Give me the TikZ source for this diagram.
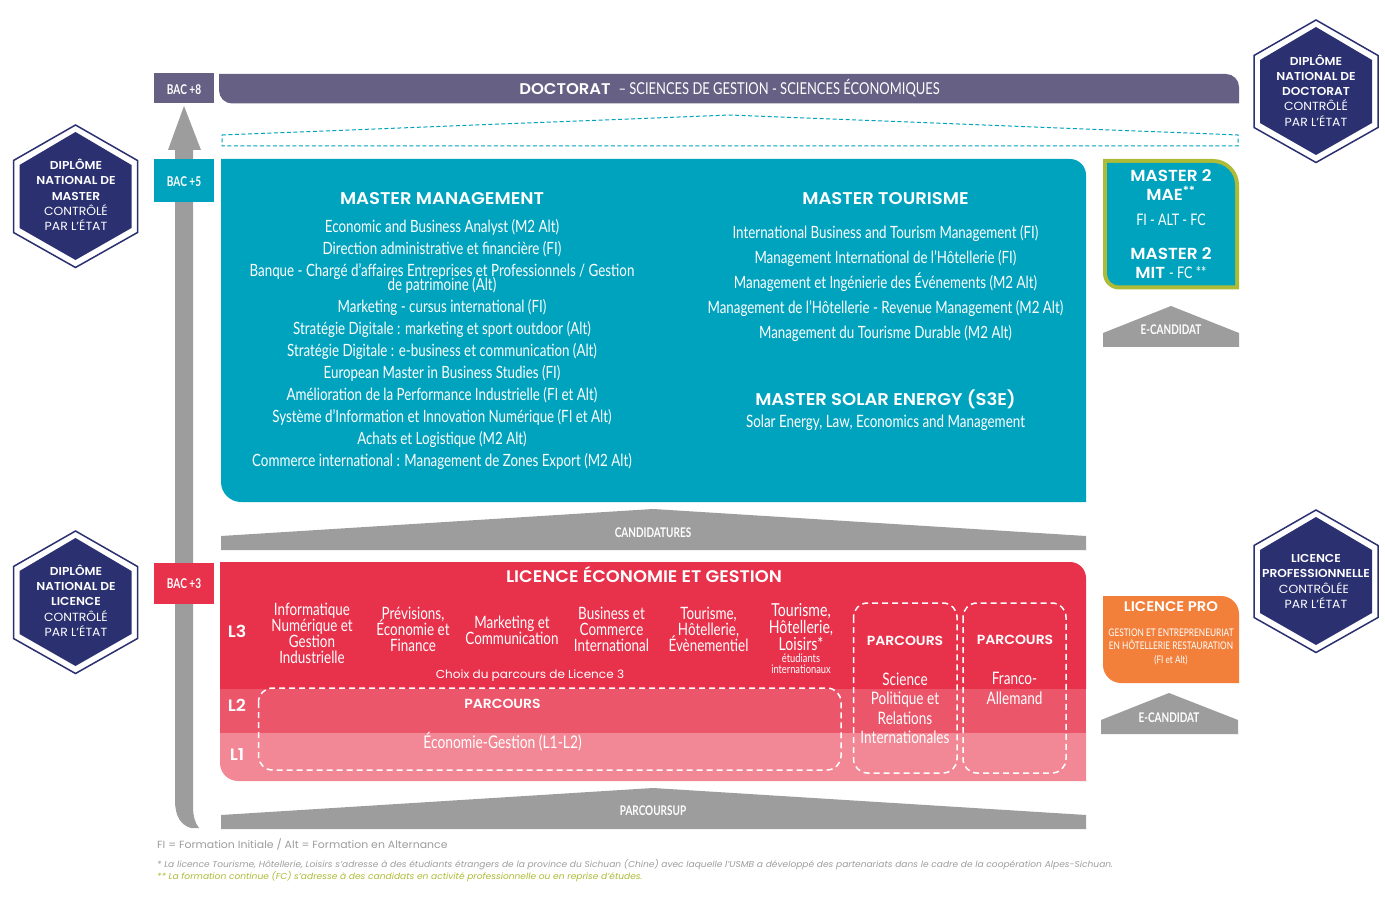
\documentclass[tikz,border=0pt]{standalone}
\usepackage{fontspec}
\newfontfamily\dinf[FakeStretch=0.79]{Lato}
\newfontfamily\dinb[FakeStretch=0.75]{Lato Bold}
\newfontfamily\gotf[FakeStretch=1.05]{Poppins}
\newfontfamily\gotb[FakeStretch=1.06]{Poppins SemiBold}
\definecolor{purp}{HTML}{666085}
\definecolor{teal}{HTML}{00A3BE}
\definecolor{redd}{HTML}{E8324C}
\definecolor{redb}{HTML}{EB566B}
\definecolor{redc}{HTML}{F28895}
\definecolor{grayy}{HTML}{9D9D9D}
\definecolor{navy}{HTML}{2B3071}
\definecolor{olivy}{HTML}{AEBB37}
\definecolor{orang}{HTML}{F2803B}
\newcommand\tbpath[6]{(#1,#2) -- ({#3-#5},#2) .. controls ({#3-0.45*#5},#2) and (#3,{#2+0.45*#5}) .. (#3,{#2+#5}) -- (#3,#4) -- ({#1+#6},#4) .. controls ({#1+0.45*#6},#4) and (#1,{#4-0.45*#6}) .. (#1,{#4-#6}) -- cycle}
\tikzset{
  din/.style={inner sep=0pt,text depth=0pt,text height=#1*0.7pt,text=white,font=\dinf\fontsize{#1}{#1}\selectfont},
  dib/.style={inner sep=0pt,text depth=0pt,text height=#1*0.7pt,text=white,font=\dinb\fontsize{#1}{#1}\selectfont},
  tit/.style={inner sep=0pt,text depth=0pt,text height=#1*0.7pt,text=white,font=\gotb\fontsize{#1}{#1}\selectfont},
  lig/.style={inner sep=0pt,text depth=0pt,text height=#1*0.7pt,text=white,font=\gotf\fontsize{#1}{#1}\selectfont},
  dashbox/.style={draw=white,line width=1.5pt,dash pattern=on 6pt off 4pt,rounded corners=14pt},
  hexa/.pic={
    \draw[navy,line width=1.5pt] (0,1) -- (62,36.5) -- (62,108.5) -- (0,143.5) -- (-62,108.5) -- (-62,36.5) -- cycle;
    \fill[navy] (0,8) -- (56,41) -- (56,104) -- (0,136) -- (-56,104) -- (-56,41) -- cycle;
  }
}
\begin{document}
\begin{tikzpicture}[x=1pt,y=-1pt]
\useasboundingbox (0,0) rectangle (1385,901);
\fill[white] (0,0) rectangle (1385,901);
% hexagons
\pic at (75.5,124) {hexa};
\pic at (75.5,530) {hexa};
\pic at (1316,19) {hexa};
\pic at (1316,509) {hexa};
\node[tit=11.5] (ha1) at (76,165) {DIPLÔME};
\node[tit=11.5] (ha2) at (76,180.5) {NATIONAL DE};
\node[tit=11.5] (ha3) at (76,196) {MASTER};
\node[lig=11.8] (ha4) at (76,211) {CONTRÔLÉ};
\node[lig=11.8] (ha5) at (76,226) {PAR L’ÉTAT};
\node[tit=11.5] (hb1) at (76,571) {DIPLÔME};
\node[tit=11.5] (hb2) at (76,586) {NATIONAL DE};
\node[tit=11.5] (hb3) at (76,601.5) {LICENCE};
\node[lig=11.8] (hb4) at (76,617) {CONTRÔLÉ};
\node[lig=11.8] (hb5) at (76,632) {PAR L’ÉTAT};
\node[tit=11.5] (hc1) at (1316,61) {DIPLÔME};
\node[tit=11.5] (hc2) at (1316,76) {NATIONAL DE};
\node[tit=11.5] (hc3) at (1316,91) {DOCTORAT};
\node[lig=11.8] (hc4) at (1316,106.5) {CONTRÔLÉ};
\node[lig=11.8] (hc5) at (1316,122) {PAR L’ÉTAT};
\node[tit=11.5] (hd1) at (1316,558.5) {LICENCE};
\node[tit=11.5] (hd2) at (1316,573.5) {PROFESSIONNELLE};
\node[lig=11.8] (hd3) at (1314,589) {CONTRÔLÉE};
\node[lig=11.8] (hd4) at (1316,604) {PAR L’ÉTAT};
% gray arrow
\fill[grayy] (184,106) -- (201,150) -- (193,150) -- (193,806) .. controls (193,816) and (195,823) .. (199,828) -- (191,828) .. controls (181,825) and (175,817) .. (175,800) -- (175,150) -- (168,150) -- cycle;
% bac boxes
\fill[purp] (154,73) rectangle (214,103);
\fill[teal] (154,159) rectangle (214,202);
\fill[redd] (154,562.5) rectangle (214,604);
\node[dib=13.5] (b8) at (184,89.5) {BAC +8};
\node[dib=13.5] (b5) at (184,181.5) {BAC +5};
\node[dib=13.5] (b3) at (184,583.5) {BAC +3};
% doctorat
\fill[purp] \tbpath{219}{74}{1239}{103.5}{13}{13};
\node[inner sep=0pt,text=white] (doc) at (729.5,88.5) {\gotb\fontsize{15.5}{15.5}\selectfont DOCTORAT\ \ \dinf\fontsize{16.4}{16.4}\selectfont – SCIENCES DE GESTION - SCIENCES ÉCONOMIQUES};
\draw[teal,line width=1pt,dash pattern=on 4pt off 2.5pt] (222,135) -- (730,115) -- (1238,135) -- (1238,146) -- (222,146) -- cycle;
% master
\fill[teal] \tbpath{221}{159}{1086}{502}{16}{20};
\node[tit=17] (mm) at (442,199) {MASTER MANAGEMENT};
\node[din=16.9] (m1) at (442,227) {Economic and Business Analyst (M2 Alt)};
\node[din=16.9] (m2) at (442,249) {Direction administrative et financière (FI)};
\node[din=16.9] (m3) at (442,271) {Banque - Chargé d’affaires Entreprises et Professionnels / Gestion};
\node[din=16.9] (m3b) at (442,285) {de patrimoine (Alt)};
\node[din=16.9] (m4) at (442,307) {Marketing - cursus international (FI)};
\node[din=16.9] (m5) at (442,329) {Stratégie Digitale : marketing et sport outdoor (Alt)};
\node[din=16.9] (m6) at (442,351) {Stratégie Digitale : e-business et communication (Alt)};
\node[din=16.9] (m7) at (442,373) {European Master in Business Studies (FI)};
\node[din=16.9] (m8) at (442,395) {Amélioration de la Performance Industrielle (FI et Alt)};
\node[din=16.9] (m9) at (442,417) {Système d’Information et Innovation Numérique (FI et Alt)};
\node[din=16.9] (m10) at (442,439) {Achats et Logistique (M2 Alt)};
\node[din=16.9] (m11) at (442,461) {Commerce international : Management de Zones Export (M2 Alt)};
\node[tit=17] (mt) at (885.5,199) {MASTER TOURISME};
\node[din=16.9] (t1) at (885.5,233) {International Business and Tourism Management (FI)};
\node[din=16.9] (t2) at (885.5,258) {Management International de l’Hôtellerie (FI)};
\node[din=16.9] (t3) at (885.5,283) {Management et Ingénierie des Événements (M2 Alt)};
\node[din=16.9] (t4) at (885.5,308) {Management de l’Hôtellerie - Revenue Management (M2 Alt)};
\node[din=16.9] (t5) at (885.5,333) {Management du Tourisme Durable (M2 Alt)};
\node[tit=17] (ms) at (885.5,400) {MASTER SOLAR ENERGY (S3E)};
\node[din=17] (s1) at (885.5,422) {Solar Energy, Law, Economics and Management};
% candidatures
\fill[grayy] (221,536) -- (653,509) -- (1086,536) -- (1086,550) -- (221,550) -- cycle;
\node[dib=13.3] (cand) at (653,532.5) {CANDIDATURES};
% licence
\fill[redd] \tbpath{220}{562}{1086}{689}{16}{0};
\fill[redb] (220,689) rectangle (1086,733);
\fill[redc] \tbpath{220}{733}{1086}{781}{0}{18};
\node[tit=16.8] (lic) at (644,577) {LICENCE ÉCONOMIE ET GESTION};
\node[tit=16.5] (l3) at (237,632) {L3};
\node[tit=16.5] (l2) at (237,706) {L2};
\node[tit=16.5] (l1) at (237,755) {L1};
\node[din=17] (a1) at (312,610) {Informatique};
\node[din=17] (a2) at (312,626) {Numérique et};
\node[din=17] (a3) at (312,642) {Gestion};
\node[din=17] (a4) at (312,658) {Industrielle};
\node[din=17] (c1) at (413,614) {Prévisions,};
\node[din=17] (c2) at (413,630) {Économie et};
\node[din=17] (c3) at (413,646) {Finance};
\node[din=17] (d1) at (512,623) {Marketing et};
\node[din=17] (d2) at (512,639) {Communication};
\node[din=17] (e1) at (611.5,614) {Business et};
\node[din=17] (e2) at (611.5,630) {Commerce};
\node[din=17] (e3) at (611.5,646) {International};
\node[din=17] (f1) at (708.5,614) {Tourisme,};
\node[din=17] (f2) at (708.5,630) {Hôtellerie,};
\node[din=17] (f3) at (708.5,646) {Évènementiel};
\node[din=17.9] (g1) at (801,610) {Tourisme,};
\node[din=17.9] (g2) at (801,627) {Hôtellerie,};
\node[din=17.9] (g3) at (801,644) {Loisirs*};
\node[din=11.8] (g4) at (801,658.5) {étudiants};
\node[din=11.8] (g5) at (801,669) {internationaux};
\node[lig=11.5] (ch) at (530,674) {Choix du parcours de Licence 3};
\draw[dashbox] (258.5,688) rectangle (841,770);
\draw[dashbox] (853.5,603) rectangle (957,773);
\draw[dashbox] (963,603) rectangle (1066,773);
\node[tit=13.2] (p1) at (502.5,704) {PARCOURS};
\node[din=17.5] (p1a) at (502.5,742) {Économie-Gestion (L1-L2)};
\node[tit=13.2] (p2) at (905,641) {PARCOURS};
\node[din=17.2] (p2a) at (905,679) {Science};
\node[din=17.2] (p2b) at (905,698) {Politique et};
\node[din=17.2] (p2c) at (905,718) {Relations};
\node[din=17.2] (p2d) at (905,737) {Internationales};
\node[tit=13.2] (p3) at (1015,640) {PARCOURS};
\node[din=17.2] (p3a) at (1014.5,678) {Franco-};
\node[din=17.2] (p3b) at (1014.5,698) {Allemand};
% parcoursup
\fill[grayy] (221,815) -- (653,788) -- (1086,815) -- (1086,829) -- (221,829) -- cycle;
\node[dib=13.3] (psup) at (653,810.5) {PARCOURSUP};
% master 2
\fill[olivy] \tbpath{1103}{159}{1239}{289.5}{26}{16};
\fill[teal] \tbpath{1107}{163}{1235}{285.5}{22}{12};
\node[tit=16] (x1) at (1171,176) {MASTER 2};
\node[tit=16] (x2) at (1171,195) {MAE\textsuperscript{**}};
\node[din=15.9] (x3) at (1171,220) {FI - ALT - FC};
\node[tit=16] (x4) at (1171,254) {MASTER 2};
\node[inner sep=0pt,text=white,text height=11pt,text depth=0pt] (x5) at (1171,273) {\gotb\fontsize{16}{16}\selectfont MIT\ \dinf\fontsize{16}{16}\selectfont - FC **};
\fill[grayy] (1103,333) -- (1171,306) -- (1239,333) -- (1239,347) -- (1103,347) -- cycle;
\node[dib=13.3] (ec1) at (1171,329.5) {E-CANDIDAT};
% licence pro
\fill[orang] \tbpath{1103}{596}{1239}{683}{18}{18};
\node[tit=14] (lp) at (1171,607) {LICENCE PRO};
\node[din=10.5] (lp1) at (1171,633) {GESTION ET ENTREPRENEURIAT};
\node[din=10.5] (lp2) at (1171,646) {EN HÔTELLERIE RESTAURATION};
\node[din=10.4] (lp3) at (1171,659.5) {(FI et Alt)};
\fill[grayy] (1101,720) -- (1169,693) -- (1238,720) -- (1238,734) -- (1101,734) -- cycle;
\node[dib=13.3] (ec2) at (1169,717.5) {E-CANDIDAT};
% footnotes
\node[lig=10.4,text=grayy,anchor=west] (n1) at (157,844.5) {FI = Formation Initiale / Alt = Formation en Alternance};
\node[lig=8.65,text=grayy,anchor=west,font=\gotf\itshape\fontsize{8.65}{8.65}\selectfont] (n2) at (157,864) {* La licence Tourisme, Hôtellerie, Loisirs s’adresse à des étudiants étrangers de la province du Sichuan (Chine) avec laquelle l’USMB a développé des partenariats dans le cadre de la coopération Alpes-Sichuan.};
\node[lig=8.65,text=olivy,anchor=west,font=\gotf\itshape\fontsize{8.65}{8.65}\selectfont] (n3) at (157,876) {** La formation continue (FC) s’adresse à des candidats en activité professionnelle ou en reprise d’études.};
\end{tikzpicture}
\end{document}
